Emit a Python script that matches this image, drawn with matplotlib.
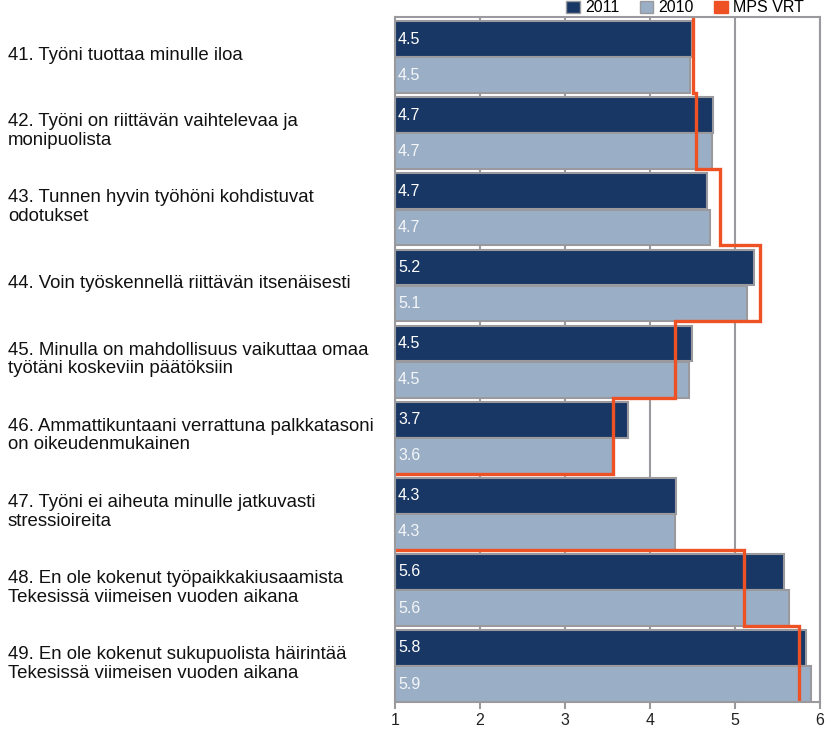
import numpy as np
import matplotlib
matplotlib.use("Agg")
import matplotlib.pyplot as plt
from matplotlib.patches import Patch
import matplotlib.transforms as transforms

plt.rcParams['font.family'] = ['Liberation Sans', 'DejaVu Sans']

# Kysymykset (ylhäältä alas)
kysymykset = [
    "41. Työni tuottaa minulle iloa",
    "42. Työni on riittävän vaihtelevaa ja\nmonipuolista",
    "43. Tunnen hyvin työhöni kohdistuvat\nodotukset",
    "44. Voin työskennellä riittävän itsenäisesti",
    "45. Minulla on mahdollisuus vaikuttaa omaa\ntyötäni koskeviin päätöksiin",
    "46. Ammattikuntaani verrattuna palkkatasoni\non oikeudenmukainen",
    "47. Työni ei aiheuta minulle jatkuvasti\nstressioireita",
    "48. En ole kokenut työpaikkakiusaamista\nTekesissä viimeisen vuoden aikana",
    "49. En ole kokenut sukupuolista häirintää\nTekesissä viimeisen vuoden aikana",
]

arvot_2011 = [4.49, 4.74, 4.67, 5.22, 4.49, 3.74, 4.31, 5.58, 5.84]
arvot_2010 = [4.47, 4.73, 4.71, 5.14, 4.46, 3.57, 4.29, 5.64, 5.89]
# MPS VRT vertailuarvo (47: ei arvoa)
arvot_mps = [4.51, 4.54, 4.82, 5.29, 4.29, 3.56, np.nan, 5.11, 5.75]

x_ticks = [1, 2, 3, 4, 5, 6]

vari_2011 = "#183764"
vari_2010 = "#9AAFC6"
vari_mps = "#EE5124"
harmaa = "#9A9A9E"

fig = plt.figure(figsize=(8.33, 7.32), dpi=100)
ax = fig.add_axes([395 / 833, 1 - 702 / 732, 425 / 833, 685 / 732])

n = len(kysymykset)
y = np.arange(n)
h = 0.47

# Palkit
ax.barh(y + 0.29, np.array(arvot_2011) - 1, left=1, height=h, color=vari_2011,
        edgecolor=harmaa, linewidth=1.5, zorder=2)
ax.barh(y + 0.765, np.array(arvot_2010) - 1, left=1, height=h, color=vari_2010,
        edgecolor=harmaa, linewidth=1.5, zorder=2)

# Arvot palkkien sisään
for i in range(n):
    ax.text(1.035, i + 0.29, f"{arvot_2011[i]:.1f}", color="white", fontsize=11.5,
            ha="left", va="center", zorder=4)
    ax.text(1.035, i + 0.765, f"{arvot_2010[i]:.1f}", color="#F4F6F9", fontsize=11.5,
            ha="left", va="center", zorder=4)

# MPS VRT porrasviiva
xs, ys = [], []
for i, v in enumerate(arvot_mps):
    if np.isnan(v):
        xs += [1, np.nan, 1]
        ys += [i, np.nan, i + 1]
    else:
        xs += [v, v]
        ys += [i, i + 1]
ax.plot(xs, ys, color=vari_mps, linewidth=2.4, solid_joinstyle="miter", zorder=3)

ax.set_xlim(1, 6)
ax.set_ylim(n, 0)
ax.set_xticks(x_ticks)
ax.set_xticklabels([str(t) for t in x_ticks], fontsize=11.5, color="#222222")
ax.set_yticks([])
ax.tick_params(axis="x", direction="out", length=5, width=1.5, color=harmaa, pad=3)
ax.grid(axis="x", color=harmaa, linewidth=1.5, zorder=0)
ax.set_axisbelow(True)
for s in ax.spines.values():
    s.set_color(harmaa)
    s.set_linewidth(1.5)
    s.set_zorder(5)

# Kysymysten tekstit vasemmalle
trans = transforms.blended_transform_factory(fig.transFigure, ax.transData)
for i, k in enumerate(kysymykset):
    ax.text(8 / 833, i + 0.5, k, transform=trans, fontsize=13.4, ha="left",
            va="center", color="#111111", linespacing=1.12)

# Selite
kahvat = [Patch(facecolor=vari_2011, edgecolor=harmaa, label="2011"),
          Patch(facecolor=vari_2010, edgecolor=harmaa, label="2010"),
          Patch(facecolor=vari_mps, edgecolor=vari_mps, label="MPS VRT")]
fig.legend(handles=kahvat, loc="upper right", bbox_to_anchor=(818 / 833, 1.019), ncol=3,
           frameon=False, fontsize=11.5, handlelength=0.85, handleheight=0.85,
           handletextpad=0.3, columnspacing=1.3)

plt.savefig("out.png", dpi=100)
